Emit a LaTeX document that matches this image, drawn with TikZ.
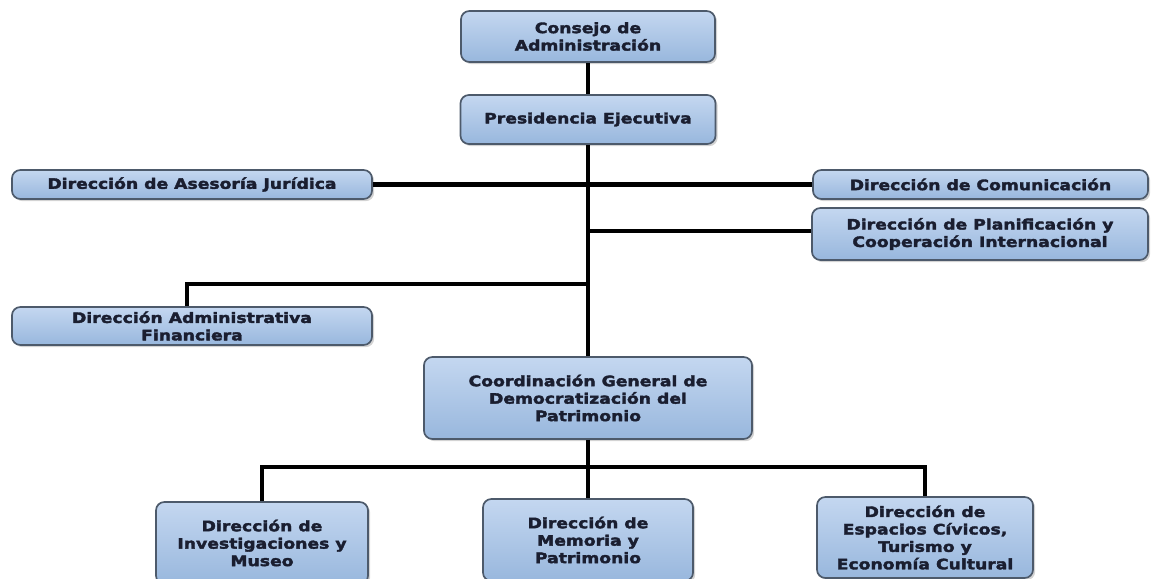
\documentclass[tikz,border=0pt]{standalone}
\usepackage{fontspec}
\setmainfont{DejaVu Sans}[FakeStretch=1.2, BoldFeatures={FakeBold=2.5}]
\usetikzlibrary{shadows}
\definecolor{boxtop}{HTML}{C4D7F0}
\definecolor{boxbot}{HTML}{98B7DD}
\definecolor{boxline}{HTML}{4D5A6B}
\definecolor{boxtext}{HTML}{1A1E30}
\tikzset{
unit/.style={draw=boxline, line width=1.2pt, rounded corners=6pt,
  top color=boxtop, bottom color=boxbot,
  drop shadow={opacity=0.35, shadow xshift=1.5pt, shadow yshift=-1.5pt},
  font=\bfseries\fontsize{10.2}{12.4}\selectfont, text=boxtext,
  align=center, inner sep=2pt},
link/.style={line width=3pt, black}
}
\begin{document}
\begin{tikzpicture}[x=0.025cm, y=-0.025cm]
\useasboundingbox (0,0) rectangle (1152,579);
\node[unit, minimum width=6.35cm, minimum height=1.275cm] (consejo) at (588,36.5)
  {Consejo de\\Administración};
\node[unit, minimum width=6.375cm, minimum height=1.225cm] (presid) at (588,119.5)
  {Presidencia Ejecutiva};
\node[unit, minimum width=9cm, minimum height=0.725cm] (asesoria) at (192,184.5)
  {Dirección de Asesoría Jurídica};
\node[unit, minimum width=8.375cm, minimum height=0.725cm] (comunic) at (980.5,184.5)
  {Dirección de Comunicación};
\node[unit, minimum width=8.4cm, minimum height=1.3cm] (planif) at (980,234)
  {Dirección de Planificación y\\Cooperación Internacional};
\node[unit, minimum width=9cm, minimum height=0.95cm] (adminfin) at (192,326)
  {Dirección Administrativa\\Financiera};
\node[unit, minimum width=8.2cm, minimum height=2.05cm] (coord) at (588,398)
  {Coordinación General de\\Democratización del\\Patrimonio};
\node[unit, minimum width=5.3cm, minimum height=2.05cm] (invest) at (262,543)
  {Dirección de\\Investigaciones y\\Museo};
\node[unit, minimum width=5.25cm, minimum height=2.05cm] (memoria) at (588,540)
  {Dirección de\\Memoria y\\Patrimonio};
\node[unit, minimum width=5.4cm, minimum height=2.025cm] (espacios) at (925,537.5)
  {Dirección de\\Espacios Cívicos,\\Turismo y\\Economía Cultural};
% spine
\draw[link] (consejo) -- (presid);
\draw[link] (presid) -- (coord);
\draw[link] (asesoria) -- (comunic);
\coordinate (jplan) at (588,231);
\draw[link] (jplan) -- (planif.west |- jplan);
\coordinate (jadm) at (588,284);
\coordinate (kadm) at (187,284);
\draw[link] (jadm) -- (kadm) -- (kadm |- adminfin.north);
% lower level
\coordinate (jbot) at (588,467);
\draw[link] (coord) -- (memoria);
\draw[link] (invest.north) |- (jbot) -| (espacios.north);
\end{tikzpicture}
\end{document}
